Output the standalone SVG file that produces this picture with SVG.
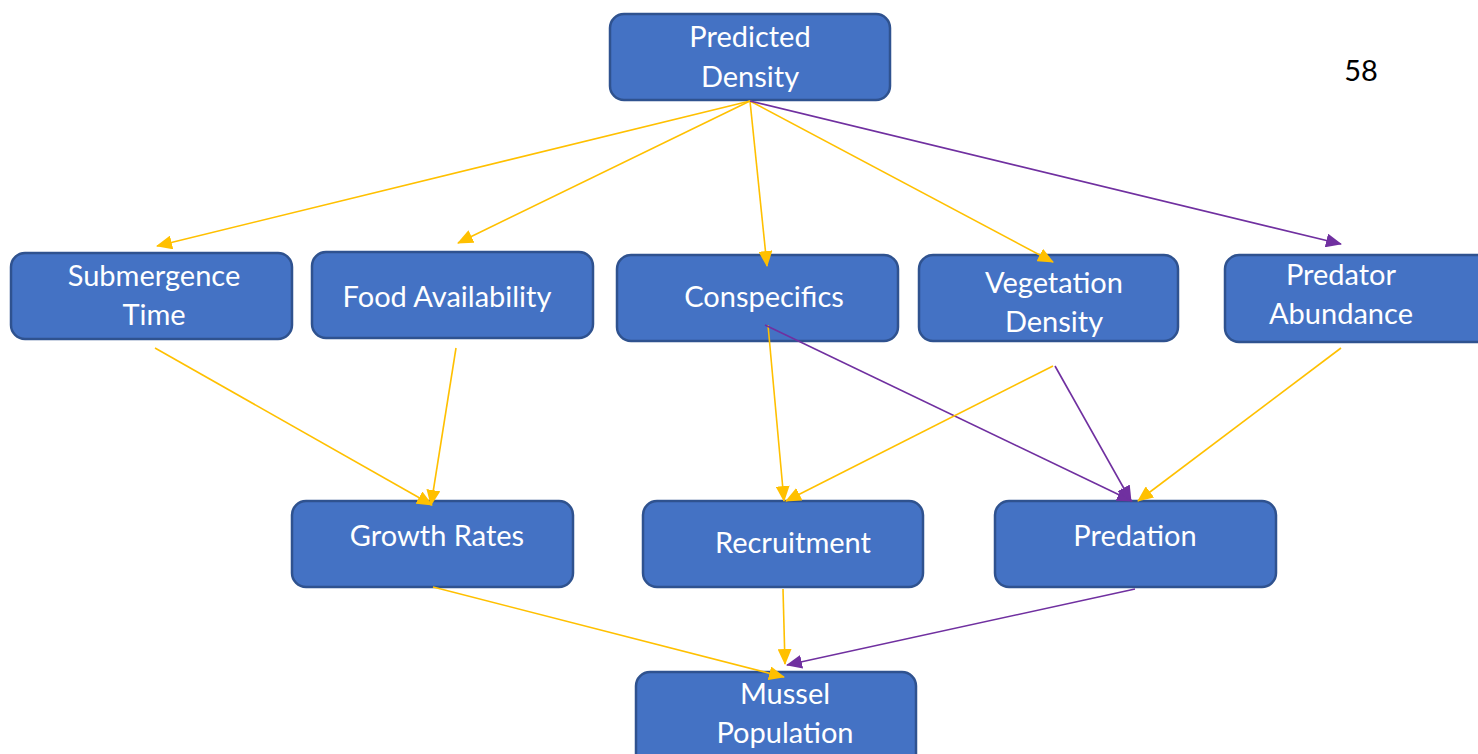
<svg xmlns="http://www.w3.org/2000/svg" width="1478" height="754" viewBox="0 0 1478 754">
<style>
.n rect{fill:#4472C4;stroke:#2F528F;stroke-width:2.5}
.n text{fill:#fff;font-family:Lato,"Open Sans",sans-serif;font-size:29px;text-anchor:middle;dominant-baseline:central}
.y{stroke:#FFC000;stroke-width:1.6;fill:none;marker-end:url(#ay)}
.p{stroke:#7030A0;stroke-width:1.6;fill:none;marker-end:url(#ap)}
</style>
<defs>
<marker id="ay" viewBox="0 0 16 14" refX="15" refY="7" markerWidth="16" markerHeight="14" markerUnits="userSpaceOnUse" orient="auto"><path d="M0,0L16,7L0,14Z" fill="#FFC000"/></marker>
<marker id="ap" viewBox="0 0 16 14" refX="15" refY="7" markerWidth="16" markerHeight="14" markerUnits="userSpaceOnUse" orient="auto"><path d="M0,0L16,7L0,14Z" fill="#7030A0"/></marker>
</defs>
<rect width="1478" height="754" fill="#fff"/>
<g id="predicted-density" class="n"><rect x="610" y="14" width="280" height="86" rx="14"/><text x="750" y="35">Predicted</text><text x="750" y="75">Density</text></g>
<g id="submergence-time" class="n"><rect x="11" y="253" width="281" height="86" rx="14"/><text x="154" y="274">Submergence</text><text x="154" y="313">Time</text></g>
<g id="food-availability" class="n"><rect x="312" y="252" width="281" height="86" rx="14"/><text x="447" y="295">Food Availability</text></g>
<g id="conspecifics" class="n"><rect x="617" y="255" width="281" height="86" rx="14"/><text x="764" y="295">Conspecifics</text></g>
<g id="vegetation-density" class="n"><rect x="919" y="255" width="259" height="86" rx="14"/><text x="1054" y="281">Vegetation</text><text x="1054" y="320">Density</text></g>
<g id="predator-abundance" class="n"><rect x="1225" y="255" width="270" height="87" rx="14"/><text x="1341" y="273">Predator</text><text x="1341" y="312">Abundance</text></g>
<g id="growth-rates" class="n"><rect x="292" y="501" width="281" height="86" rx="14"/><text x="437" y="534">Growth Rates</text></g>
<g id="recruitment" class="n"><rect x="643" y="501" width="280" height="86" rx="14"/><text x="793" y="541">Recruitment</text></g>
<g id="predation" class="n"><rect x="995" y="501" width="281" height="86" rx="14"/><text x="1135" y="534">Predation</text></g>
<g id="mussel-population" class="n"><rect x="636" y="672" width="280" height="100" rx="14"/><text x="785" y="692">Mussel</text><text x="785" y="731">Population</text></g>
<g id="connectors">
<line class="y" x1="750" y1="101" x2="157" y2="246"/>
<line class="y" x1="750" y1="101" x2="458" y2="243"/>
<line class="y" x1="750" y1="101" x2="767" y2="266"/>
<line class="y" x1="750" y1="101" x2="1053" y2="262"/>
<line class="p" x1="750" y1="101" x2="1341" y2="244"/>
<line class="y" x1="155" y1="348" x2="432" y2="505"/>
<line class="y" x1="456" y1="348" x2="431" y2="505"/>
<line class="y" x1="768" y1="325" x2="784" y2="501"/>
<line class="p" x1="765" y1="325" x2="1132" y2="501"/>
<line class="y" x1="1053" y1="366" x2="786" y2="501"/>
<line class="p" x1="1055" y1="366" x2="1131" y2="501"/>
<line class="y" x1="1341" y1="348" x2="1138" y2="501"/>
<line class="y" x1="433" y1="587" x2="784" y2="677"/>
<line class="y" x1="783" y1="589" x2="785" y2="664"/>
<line class="p" x1="1135" y1="589" x2="787" y2="665"/>
</g>
<text x="1361" y="69" font-family="Lato,'Open Sans',sans-serif" font-size="29" text-anchor="middle" dominant-baseline="central" fill="#000">58</text>
</svg>
